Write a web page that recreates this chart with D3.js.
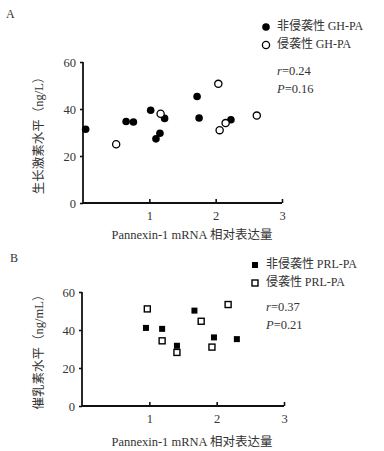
<!DOCTYPE html>
<html>
<head>
<meta charset="utf-8">
<script src="https://cdn.jsdelivr.net/npm/d3@7"></script>
<style>
  body { margin: 0; background: #fff; }
  svg text { fill: #333; }
  .lat { font-family: "Liberation Serif", serif; }
  .cjk { font-family: "Noto Sans CJK SC", sans-serif; }
</style>
</head>
<body>
<div id="chart"></div>
<script>
// ---- data ----
// Panel A: growth hormone
const ghNonX = [0.04, 0.65, 0.76, 1.02, 1.10, 1.16, 1.23, 1.72, 1.75, 2.23];
const ghNonY = [31.4, 34.7, 34.5, 39.5, 27.3, 29.7, 36.0, 45.3, 36.2, 35.4];
const ghInvX = [0.50, 1.17, 2.04, 2.06, 2.15, 2.62];
const ghInvY = [25.0, 38.0, 50.7, 31.0, 34.0, 37.2];
// Panel B: prolactin
const prlNonX = [0.95, 1.19, 1.41, 1.67, 1.96, 2.30];
const prlNonY = [41.1, 40.6, 31.7, 50.2, 36.1, 35.2];
const prlInvX = [0.97, 1.19, 1.41, 1.77, 1.93, 2.17];
const prlInvY = [51.1, 34.3, 28.2, 44.6, 31.0, 53.4];

const xTicks = [1, 2, 3];
const yTicks = [0, 20, 40, 60];

const panels = [
  {
    label: "A", top: 62, bottom: 203, left: 83, right: 282,
    yTitle: [["生长激素水平（", "cjk"], ["ng/L", "lat"], ["）", "cjk"]], shape: "circle",
    nonX: ghNonX, nonY: ghNonY, invX: ghInvX, invY: ghInvY,
    legend: [[["非侵袭性 ", "cjk"], ["GH-PA", "lat"]], [["侵袭性 ", "cjk"], ["GH-PA", "lat"]]],
    r: "0.24", p: "0.16",
    labelPos: [6, 18], legX: 266, legY: 27, statY: 72, yTitleX: 40, xTitleY: 239
  },
  {
    label: "B", top: 292, bottom: 406, left: 82, right: 284,
    yTitle: [["催乳素水平（", "cjk"], ["ng/mL", "lat"], ["）", "cjk"]], shape: "square",
    nonX: prlNonX, nonY: prlNonY, invX: prlInvX, invY: prlInvY,
    legend: [[["非侵袭性 ", "cjk"], ["PRL-PA", "lat"]], [["侵袭性 ", "cjk"], ["PRL-PA", "lat"]]],
    r: "0.37", p: "0.21",
    labelPos: [10, 262], legX: 255, legY: 265, statY: 308, yTitleX: 40, xTitleY: 446
  }
];

const svg = d3.select("#chart").append("svg")
  .attr("width", 384)
  .attr("height", 451);

function addRuns(textSel, runs) {
  runs.forEach(r => textSel.append("tspan").attr("class", r[1]).text(r[0]));
}

function drawMarker(g, shape, filled, x, y) {
  if (shape === "circle") {
    g.append("circle")
      .attr("cx", x).attr("cy", y).attr("r", filled ? 3.8 : 3.6)
      .attr("fill", filled ? "#000" : "#fff")
      .attr("stroke", "#000").attr("stroke-width", filled ? 0 : 1.3);
  } else {
    let s = 6;
    g.append("rect")
      .attr("x", x - s / 2).attr("y", y - s / 2)
      .attr("width", s).attr("height", s)
      .attr("fill", filled ? "#000" : "#fff")
      .attr("stroke", "#000").attr("stroke-width", filled ? 0 : 1.4);
  }
}

panels.forEach(p => {
  let g = svg.append("g");

  let x = d3.scaleLinear().domain([0, 3]).range([p.left, p.right]);
  let y = d3.scaleLinear().domain([0, 60]).range([p.bottom, p.top]);

  // panel letter
  g.append("text")
    .attr("class", "lat")
    .attr("x", p.labelPos[0]).attr("y", p.labelPos[1])
    .attr("font-size", 12)
    .text(p.label);

  // axes
  let xAxis = d3.axisBottom(x).tickValues(xTicks).tickFormat(d3.format("d"))
    .tickSizeInner(-4).tickSizeOuter(0).tickPadding(8);
  let yAxis = d3.axisLeft(y).tickValues(yTicks).tickFormat(d3.format("d"))
    .tickSize(3).tickSizeOuter(0).tickPadding(4);

  let gx = g.append("g")
    .attr("transform", `translate(0, ${p.bottom})`)
    .call(xAxis);
  let gy = g.append("g")
    .attr("transform", `translate(${p.left}, 0)`)
    .call(yAxis);

  [gx, gy].forEach(a => {
    a.attr("font-family", null).attr("font-size", null);
    a.select(".domain").attr("stroke", "#111").attr("stroke-width", 1.8);
    a.selectAll(".tick line").attr("stroke", "#111").attr("stroke-width", 1.6);
    a.selectAll(".tick text")
      .attr("class", "lat")
      .attr("font-size", 12.5)
      .attr("fill", "#333");
  });
  // domain drawn from the corner
  gx.select(".domain").attr("d", `M${p.left},0H${p.right}`);
  gy.select(".domain").attr("d", `M0,${p.bottom}V${p.top}`);

  // axis titles
  let yt = g.append("text")
    .attr("transform", `translate(${p.yTitleX}, ${(p.top + p.bottom) / 2}) rotate(-90)`)
    .attr("text-anchor", "middle")
    .attr("dominant-baseline", "middle")
    .attr("font-size", 12.5);
  addRuns(yt, p.yTitle);

  let xt = g.append("text")
    .attr("x", 192).attr("y", p.xTitleY)
    .attr("text-anchor", "middle")
    .attr("font-size", 12.5);
  addRuns(xt, [["Pannexin-1 mRNA ", "lat"], ["相对表达量", "cjk"]]);

  // points
  p.nonX.forEach((v, i) => drawMarker(g, p.shape, true, x(v), y(p.nonY[i])));
  p.invX.forEach((v, i) => drawMarker(g, p.shape, false, x(v), y(p.invY[i])));

  // legend
  p.legend.forEach((t, i) => {
    let ly = p.legY + i * 18;
    drawMarker(g, p.shape, i === 0, p.legX, ly);
    let lt = g.append("text")
      .attr("x", p.legX + 11).attr("y", ly)
      .attr("dominant-baseline", "middle")
      .attr("font-size", 12);
    addRuns(lt, t);
  });

  // stats
  let st = g.append("text")
    .attr("class", "lat")
    .attr("x", p.legX + 11).attr("y", p.statY)
    .attr("dominant-baseline", "middle")
    .attr("font-size", 12.5);
  st.append("tspan").attr("font-style", "italic").text("r");
  st.append("tspan").text("=" + p.r);

  let sp = g.append("text")
    .attr("class", "lat")
    .attr("x", p.legX + 11).attr("y", p.statY + 18)
    .attr("dominant-baseline", "middle")
    .attr("font-size", 12.5);
  sp.append("tspan").attr("font-style", "italic").text("P");
  sp.append("tspan").text("=" + p.p);
});
</script>
</body>
</html>
